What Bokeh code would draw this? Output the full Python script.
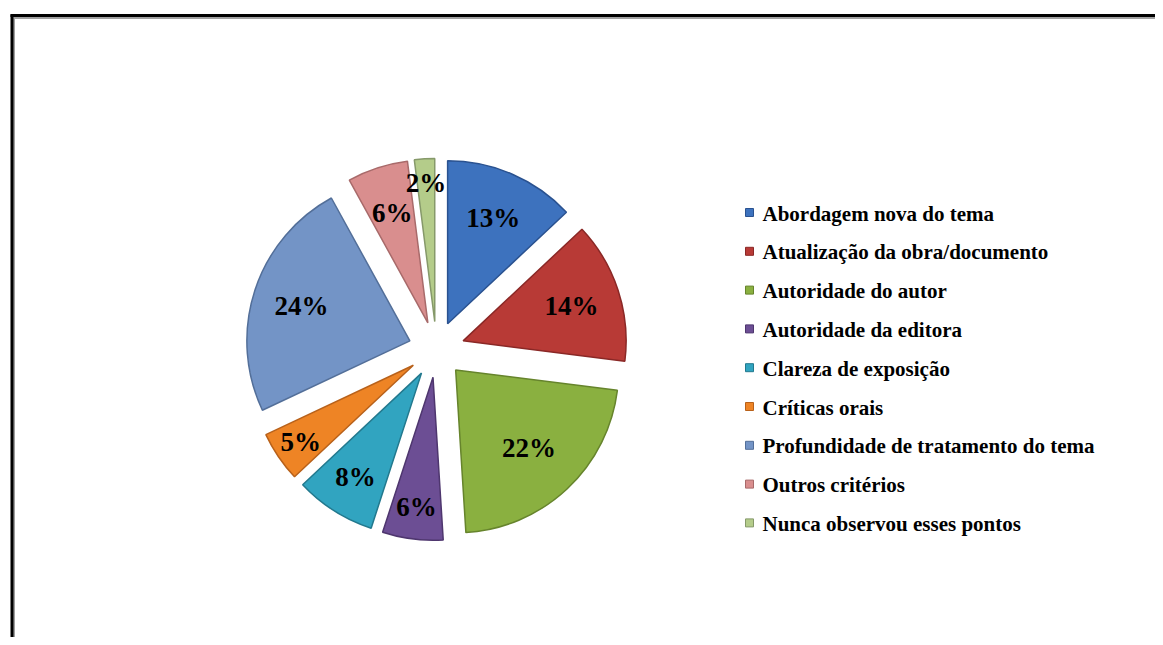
import math
from bokeh.plotting import figure
from bokeh.models import Range1d
from bokeh.core.properties import value
from bokeh.embed import file_html
from bokeh.resources import INLINE

# ---- data ----
categories = [
    "Abordagem nova do tema",
    "Atualização da obra/documento",
    "Autoridade do autor",
    "Autoridade da editora",
    "Clareza de exposição",
    "Críticas orais",
    "Profundidade de tratamento do tema",
    "Outros critérios",
    "Nunca observou esses pontos",
]
percent = [13, 14, 22, 6, 8, 5, 24, 6, 2]
colors = ["#3D72BE", "#B83A36", "#8AB040", "#6C4E94", "#31A4C0",
          "#EE8425", "#7394C6", "#D98E8E", "#B4CC8A"]
edge_colors = ["#2A5290", "#8A2826", "#66842C", "#4E366E", "#22798E",
               "#B8611A", "#536F99", "#A86A6A", "#86996A"]

W, H = 1155, 637


def X(px):
    return px


def Y(py):
    return H - py


p = figure(width=W, height=H, x_range=Range1d(0, W), y_range=Range1d(0, H),
           output_backend="svg", toolbar_location=None, min_border=0)
p.axis.visible = False
p.grid.visible = False
p.outline_line_color = None
p.background_fill_color = "white"

# frame
p.line([X(13), X(1170)], [Y(17.5), Y(17.5)], line_color="#A0A0A0", line_width=2)
p.line([X(13.5), X(13.5)], [Y(17), Y(660)], line_color="#A0A0A0", line_width=2)
p.line([X(10), X(1170)], [Y(15), Y(15)], line_color="black", line_width=3)
p.line([X(11.5), X(11.5)], [Y(14), Y(660)], line_color="black", line_width=3)

# pie
cx, cy = X(436), Y(349)
R = 163
explode = 28
label_r = [115, 114, 107, 131, 123, 136, 114, 115, 139]

total = sum(percent)
cum = 0.0
xs, ys, starts, ends, lx, ly = [], [], [], [], [], []
for i, v in enumerate(percent):
    a0 = math.pi / 2 - 2 * math.pi * cum / total
    a1 = math.pi / 2 - 2 * math.pi * (cum + v) / total
    mid = (a0 + a1) / 2
    ox = cx + explode * math.cos(mid)
    oy = cy + explode * math.sin(mid)
    xs.append(ox)
    ys.append(oy)
    starts.append(a0)
    ends.append(a1)
    lx.append(ox + label_r[i] * math.cos(mid))
    ly.append(oy + label_r[i] * math.sin(mid))
    cum += v

p.wedge(x=xs, y=ys, radius=R, start_angle=starts, end_angle=ends,
        direction="clock", fill_color=colors, line_color=edge_colors,
        line_width=1.5)
p.text(x=lx, y=ly, text=[f"{v}%" for v in percent],
       text_font=value("Liberation Serif"), text_font_style="bold",
       text_font_size="27px", text_color="black",
       text_align="center", text_baseline="middle")

# legend
lg_x = X(749)
lg_y0 = 212
lg_dy = 38.8
ly_list = [Y(lg_y0 + i * lg_dy) for i in range(len(categories))]
p.rect(x=[lg_x] * len(categories), y=ly_list, width=8, height=8,
       fill_color=colors, line_color=edge_colors, line_width=1)
p.text(x=[X(762)] * len(categories), y=[y - 1 for y in ly_list], text=categories,
       text_font=value("Liberation Serif"), text_font_style="bold",
       text_font_size="21px", text_color="black",
       text_align="left", text_baseline="middle")

open("out.html", "w").write(file_html(p, INLINE))
